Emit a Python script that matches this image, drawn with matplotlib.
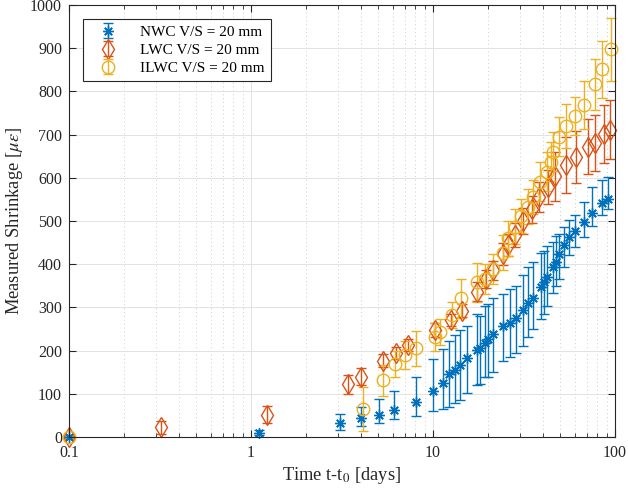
import matplotlib
matplotlib.use("Agg")
import matplotlib.pyplot as plt
from matplotlib.ticker import LogLocator, NullFormatter, FixedLocator

plt.rcParams['font.family'] = ['Liberation Serif', 'DejaVu Serif']
plt.rcParams['mathtext.fontset'] = 'stix'

# ---------------- data ----------------
nwc_t = [0.1, 1.1, 3.08, 4.0, 5.05, 6.1, 8.07, 10.0, 11.3, 12.3, 13.2, 14.1, 15.3, 17.5, 18.1,
         19.3, 20.0, 21.3, 24.3, 26.5, 28.5, 31.3, 33.4, 35.6, 39.1, 40.7, 42.1, 45.8, 47.4,
         49.4, 52.6, 55.9, 60.5, 67.6, 75.0, 84.8, 91.9]
nwc_y = [0, 10, 32, 43, 51, 62, 82, 107, 126, 145, 155, 167, 182, 201, 205,
         218, 226, 238, 257, 265, 276, 295, 311, 322, 348, 358, 370, 394, 406,
         423, 445, 462, 477, 498, 519, 542, 551]
nwc_lo = [3, 6, 15, 17, 19, 21, 33, 48, 61, 75, 76, 81, 80, 81, 82,
          80, 86, 87, 81, 79, 82, 84, 80, 73, 76, 73, 67, 60, 56,
          58, 52, 41, 37, 34, 31, 28, 24]
nwc_hi = [3, 6, 22, 26, 37, 44, 58, 73, 77, 78, 81, 81, 76, 83, 75,
          85, 83, 84, 74, 77, 74, 80, 83, 84, 77, 73, 71, 58, 59,
          47, 42, 40, 37, 47, 60, 54, 50]

lwc_t = [0.1, 0.32, 1.23, 3.43, 4.0, 5.29, 6.24, 7.26, 10.26, 12.5, 14.4, 17.4, 19.6, 21.3,
         24.3, 25.9, 28.2, 31.4, 34.9, 38.4, 42.7, 46.8, 53.6, 60.8, 70.8, 77.6, 87.4, 94.0]
lwc_y = [0, 22, 52, 122, 140, 176, 195, 213, 248, 271, 292, 336, 366, 386,
         424, 444, 468, 499, 527, 556, 579, 603, 630, 649, 672, 681, 701, 711]
lwc_err = [3, 15, 20, 22, 20, 15, 14, 13, 16, 13, 15, 22, 20, 22,
           25, 25, 28, 30, 32, 35, 40, 57, 65, 60, 63, 65, 67, 68]

ilwc_t = [0.1, 4.1, 5.3, 6.2, 7.05, 8.1, 10.3, 10.9, 12.7, 14.2, 17.4, 19.3, 21.3, 24.3,
          25.9, 28.2, 30.6, 33.3, 35.6, 38.8, 42.1, 44.4, 45.8, 49.4, 53.8, 60.5, 67.6,
          77.6, 84.8, 95.0]
ilwc_y = [0, 65, 131, 169, 190, 205, 232, 244, 282, 321, 358, 365, 388, 427,
          460, 487, 512, 533, 556, 591, 614, 637, 660, 695, 720, 743, 768,
          816, 851, 897]
ilwc_err = [3, 50, 35, 31, 32, 40, 33, 30, 30, 45, 45, 35, 35, 40,
            40, 40, 40, 40, 40, 45, 45, 45, 45, 45, 50, 44, 55,
            60, 66, 73]

labels = ['NWC V/S = 20 mm', 'LWC V/S = 20 mm', 'ILWC V/S = 20 mm']
colors = ['#0072BD', '#D95319', '#EDB120']
yticks = list(range(0, 1001, 100))
xticks = [0.1, 1, 10, 100]
xticklabels = ['0.1', '1', '10', '100']

# ---------------- figure ----------------
fig = plt.figure(figsize=(6.28, 4.95), dpi=100)
ax = fig.add_axes([0.1099, 0.1172, 0.8694, 0.8727])
ax.set_xscale('log')
ax.set_xlim(0.1, 100)
ax.set_ylim(0, 1000)

common = dict(linestyle='none', capsize=3.6, elinewidth=1.0, capthick=1.0,
              markeredgewidth=1.0, mfc='none')

series = [
    (nwc_t, nwc_y, [nwc_lo, nwc_hi], (8, 2, 0), 7.5, colors[0], labels[0]),
    (lwc_t, lwc_y, [lwc_err, lwc_err], 'd', 10, colors[1], labels[1]),
    (ilwc_t, ilwc_y, [ilwc_err, ilwc_err], 'o', 9, colors[2], labels[2]),
]
handles = []
for t, y, err, mk, ms, c, lab in series:
    cont = ax.errorbar(t, y, yerr=err, marker=mk, ms=ms, color=c, mec=c, label=lab, **common)
    for art in cont.get_children():
        art.set_clip_on(False)
    handles.append(cont)

# grid
ax.grid(True, which='major', axis='both', color='#E2E2E2', linestyle='-', linewidth=0.7)
ax.grid(True, which='minor', axis='x', color='#CDCDCD', linestyle=(0, (1, 3)), linewidth=0.7)
ax.set_axisbelow(True)

ax.xaxis.set_major_locator(FixedLocator(xticks))
ax.set_xticklabels(xticklabels)
ax.xaxis.set_minor_locator(LogLocator(base=10, subs=range(2, 10)))
ax.xaxis.set_minor_formatter(NullFormatter())
ax.set_yticks(yticks)

for sp in ax.spines.values():
    sp.set_color('#262626')
    sp.set_linewidth(0.8)
ax.tick_params(which='both', direction='in', top=True, right=True, colors='#262626',
               labelsize=11.5)
ax.tick_params(which='major', length=5, width=0.8)
ax.tick_params(which='minor', length=3, width=0.6)
ax.tick_params(axis='x', pad=6)
ax.tick_params(axis='y', pad=5)

ax.set_xlabel('Time t-t$_0$ [days]', fontsize=13.3, color='#262626', labelpad=3)
ax.set_ylabel(r'Measured Shrinkage [$\mu\epsilon$]', fontsize=13.3, color='#262626', labelpad=4)

leg = ax.legend(handles=handles, loc='upper left', bbox_to_anchor=(0.026, 0.968),
                borderaxespad=0, fontsize=11, frameon=True, fancybox=False,
                edgecolor='#262626', framealpha=1, handlelength=2.4, handletextpad=0.9,
                borderpad=0.42, labelspacing=0.28)
leg.get_frame().set_linewidth(0.8)

fig.savefig('out.png', dpi=100)
